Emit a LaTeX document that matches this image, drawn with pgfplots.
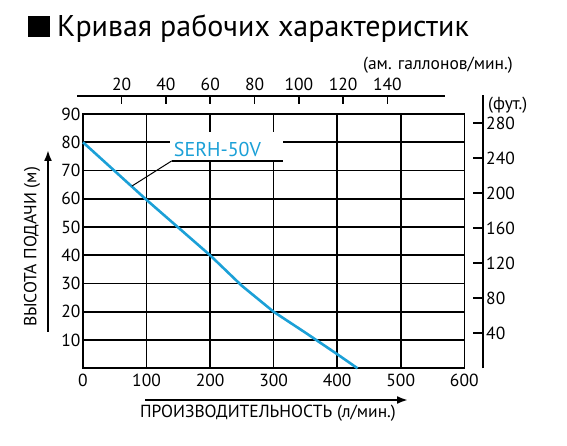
\documentclass[border=0pt]{standalone}
\usepackage{fontspec}
\setmainfont{PT Sans}
\usepackage{pgfplots}
\pgfplotsset{compat=1.18}
\usetikzlibrary{arrows.meta}
\definecolor{curvecol}{HTML}{1BA0D7}
\newcommand\lbl{\fontsize{17.5}{20}\selectfont}
\begin{document}
\begin{tikzpicture}[x=1pt,y=1pt]
\useasboundingbox (0,0) rectangle (567,446);
% title
\fill (28,409) rectangle (50,430);
\node[anchor=base west, inner sep=0, font=\fontsize{30}{34}\selectfont] at (57,409) {Кривая рабочих характеристик};
% main axis
\begin{axis}[
  at={(83pt,77.7pt)}, anchor=south west, scale only axis,
  width=381.3pt, height=254.3pt,
  xmin=0,xmax=600,ymin=0,ymax=90,
  xtick={0,100,...,600}, ytick={10,20,...,90},
  grid=major, major grid style={black, line width=1.6pt},
  axis line style={line width=1.6pt},
  major tick length=0pt,
  tick label style={font=\lbl},
  xticklabel style={yshift=-2pt},
  yticklabel style={xshift=1pt},
  /pgf/number format/assume math mode=true,
  clip=false,
]
\addplot[curvecol, line width=2.6pt] coordinates {
  (0,80) (50,69.8) (100,59.6) (150,49.8) (200,40) (250,29.2) (300,20) (350,12.6) (400,5) (432,0)
};
\fill[white] (axis cs:137,73.4) rectangle (axis cs:315,83.6);
\draw[line width=1.2pt] (axis cs:139.6,73.4) -- (axis cs:315,73.4);
\draw[line width=1pt] (axis cs:139.6,73.4) -- (axis cs:77,64.5);
\node[text=curvecol, font=\fontsize{20}{24}\selectfont] at (axis cs:211.6,77.5) {SERH-50V};
\end{axis}
% top axis (gallons)
\begin{axis}[
  at={(77.4pt,350pt)}, anchor=north west, scale only axis,
  width=367.6pt, height=10pt,
  xmin=0,xmax=166,ymin=0,ymax=1,
  axis x line=top, axis y line=none,
  axis line style={-, line width=1.6pt},
  xtick={20,40,...,140}, tick align=inside, major tick length=8pt,
  tick style={line width=1.6pt, black},
  tick label style={font=\lbl},
  xticklabel style={yshift=2pt},
  /pgf/number format/assume math mode=true,
]
\end{axis}
% right axis (feet)
\begin{axis}[
  at={(472.7pt,77.7pt)}, anchor=south west, scale only axis,
  width=10pt, height=273.3pt,
  xmin=0,xmax=1,ymin=0,ymax=312.3,
  axis y line=right, axis x line=none,
  axis line style={-, line width=1.6pt},
  ytick={40,80,...,280}, tick align=inside, major tick length=10pt,
  tick style={line width=1.6pt, black},
  tick label style={font=\lbl},
  /pgf/number format/assume math mode=true,
]
\end{axis}
\node[anchor=west, inner sep=0, font=\lbl] at (488,341) {(фут.)};
\node[anchor=east, inner sep=0, font=\lbl] at (513,381) {(ам. галлонов/мин.)};
\node[rotate=90, inner sep=0, font=\lbl] at (32,199) {ВЫСОТА ПОДАЧИ (м)};
\draw[line width=2pt, -{Latex[length=11pt,width=8pt]}] (48,114) -- (48,296);
\node[inner sep=0, font=\lbl] at (268,33) {ПРОИЗВОДИТЕЛЬНОСТЬ (л/мин.)};
\draw[line width=2pt, -{Latex[length=11pt,width=8pt]}] (145,46) -- (408,46);
\end{tikzpicture}
\end{document}
